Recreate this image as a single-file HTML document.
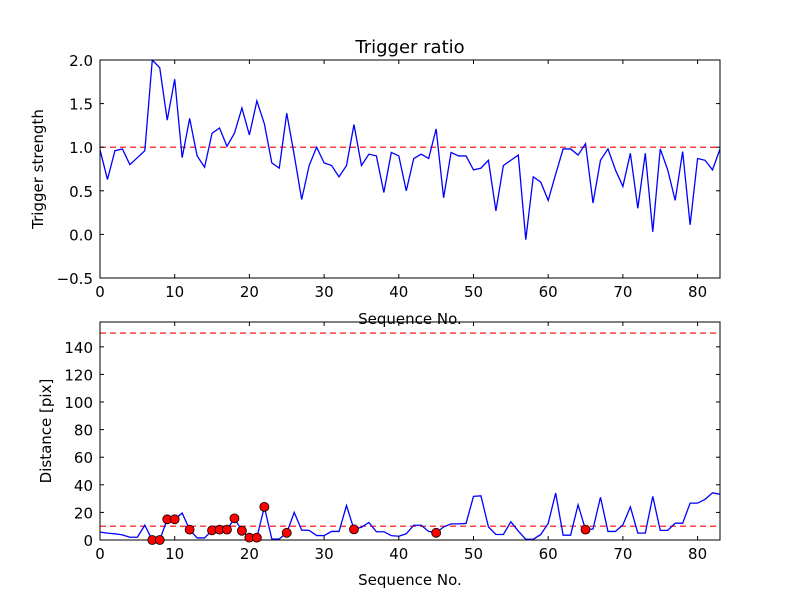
<!DOCTYPE html>
<html><head><meta charset="utf-8"><style>
body{margin:0;background:#fff;}
svg{display:block;font-family:"DejaVu Sans","Liberation Sans",sans-serif;}
</style></head><body>
<svg id="chart" width="800" height="600" viewBox="0 0 800 600" xmlns="http://www.w3.org/2000/svg">
<rect width="800" height="600" fill="#fff"/>
<g id="top"></g><g id="bot"></g>
</svg>
<script>
const seqIndex = Array.from({length:84},(_, i)=>i);
const triggerStrength = [0.97,0.63,0.96,0.98,0.80,0.88,0.96,2.0,1.91,1.31,1.78,0.88,1.33,0.90,0.77,1.16,1.22,1.01,1.16,1.45,1.14,1.53,1.27,0.82,0.76,1.39,0.91,0.40,0.79,1.0,0.82,0.79,0.66,0.79,1.26,0.79,0.92,0.90,0.48,0.94,0.90,0.50,0.87,0.92,0.87,1.21,0.42,0.94,0.90,0.90,0.74,0.76,0.85,0.27,0.79,0.85,0.91,-0.06,0.66,0.60,0.39,0.69,0.98,0.98,0.91,1.04,0.36,0.85,0.98,0.74,0.55,0.93,0.30,0.93,0.03,0.98,0.74,0.39,0.95,0.11,0.87,0.85,0.74,0.98];
const distance = [5.7,5,4.5,3.7,2,2,10.7,0,0,15,15,19.5,7.5,1.5,1.5,7,7.5,7.5,15.7,6.7,1.7,1.7,24,0.7,0.7,5.2,20,7.2,7,3.2,3.2,6.2,6.2,25,7.7,9.2,12.7,6,6,3.2,2.7,4.5,10.7,10.7,6.2,5.2,9.5,11.7,11.7,12,31.6,32,9.5,4,4,13.2,6.5,0.5,0.5,4,12,34,3.5,3.5,25.5,7.5,8,31,6.2,6.2,11,24,5,5,31.6,7,7,12.2,12.2,26.7,26.7,29.5,34.2,33.2];
const flaggedIdx = [7,8,9,10,12,15,16,17,18,19,20,21,22,25,34,45,65];
const triggerThreshold = 1.0;
const distThresholds = [10,150];
const xTicks = [0,10,20,30,40,50,60,70,80];
const topYTicks = [-0.5,0.0,0.5,1.0,1.5,2.0];
const botYTicks = [0,20,40,60,80,100,120,140];

const NS="http://www.w3.org/2000/svg";
function el(tag, attrs, parent){const e=document.createElementNS(NS,tag);for(const k in attrs)e.setAttribute(k,attrs[k]);parent.appendChild(e);return e;}
function axes(g, L,T,R,B, xmin,xmax,ymin,ymax, yticks, yfmt, name){
  const sx=v=>L+(v-xmin)/(xmax-xmin)*(R-L);
  const sy=v=>B-(v-ymin)/(ymax-ymin)*(B-T);
  const clip=el('clipPath',{id:'clip-'+name},g);
  el('rect',{x:L,y:T,width:R-L,height:B-T},clip);
  const plot=el('g',{'clip-path':'url(#clip-'+name+')'},g);
  
  
  xTicks.forEach(t=>{
    const x=sx(t);
    el('line',{x1:x,y1:B,x2:x,y2:B-4,stroke:'#000'},g);
    el('line',{x1:x,y1:T,x2:x,y2:T+4,stroke:'#000'},g);
    const tx=el('text',{x:x,y:B+19,'text-anchor':'middle','font-size':15},g);
    tx.textContent=t;
    
    
  });
  yticks.forEach(t=>{
    const y=sy(t);
    el('line',{x1:L,y1:y,x2:L+4,y2:y,stroke:'#000'},g);
    el('line',{x1:R,y1:y,x2:R-4,y2:y,stroke:'#000'},g);
    const tx=el('text',{x:L-7,y:y+6,'text-anchor':'end','font-size':15},g);
    tx.textContent=yfmt(t);
    
    
  });
  const frame=el('rect',{x:L,y:T,width:R-L,height:B-T,fill:'none',stroke:'#000','stroke-width':1},g);
  
  
  return {sx,sy,plot};
}
const fmt1=t=>(t<0?'\u2212':'')+Math.abs(t).toFixed(1);

// Top chart
const gt=document.getElementById('top');
const A=axes(gt,100,60,720,278,0,83,-0.5,2.0,topYTicks,fmt1,'top');
let ln=el('line',{x1:100,x2:720,y1:A.sy(triggerThreshold),y2:A.sy(triggerThreshold),stroke:'#f00','stroke-width':1.2,'stroke-dasharray':'6,4'},A.plot);


let p=el('polyline',{points:seqIndex.map(i=>A.sx(i)+','+A.sy(triggerStrength[i])).join(' '),fill:'none',stroke:'#00f','stroke-width':1.3},A.plot);


let t=el('text',{x:410,y:53,'text-anchor':'middle','font-size':18},gt);t.textContent='Trigger ratio';


t=el('text',{x:0,y:0,'text-anchor':'middle','font-size':15,transform:'translate(43,169) rotate(-90)'},gt);t.textContent='Trigger strength';


t=el('text',{x:410,y:324,'text-anchor':'middle','font-size':15},gt);t.textContent='Sequence No.';



// Bottom chart
const gb=document.getElementById('bot');
const Bx=axes(gb,100,322,720,540,0,83,0,158,botYTicks,v=>String(v),'bottom');
distThresholds.forEach(th=>{
  const l=el('line',{x1:100,x2:720,y1:Bx.sy(th),y2:Bx.sy(th),stroke:'#f00','stroke-width':1.2,'stroke-dasharray':'6,4'},Bx.plot);
  
  
});
p=el('polyline',{points:seqIndex.map(i=>Bx.sx(i)+','+Bx.sy(distance[i])).join(' '),fill:'none',stroke:'#00f','stroke-width':1.3},Bx.plot);


flaggedIdx.forEach(i=>{
  const c=el('circle',{cx:Bx.sx(i),cy:Bx.sy(distance[i]),r:4.5,fill:'#f00',stroke:'#000','stroke-width':0.8},gb);
  
  
});
t=el('text',{x:0,y:0,'text-anchor':'middle','font-size':15,transform:'translate(51,431) rotate(-90)'},gb);t.textContent='Distance [pix]';


t=el('text',{x:410,y:585,'text-anchor':'middle','font-size':15},gb);t.textContent='Sequence No.';


</script>
</body></html>
